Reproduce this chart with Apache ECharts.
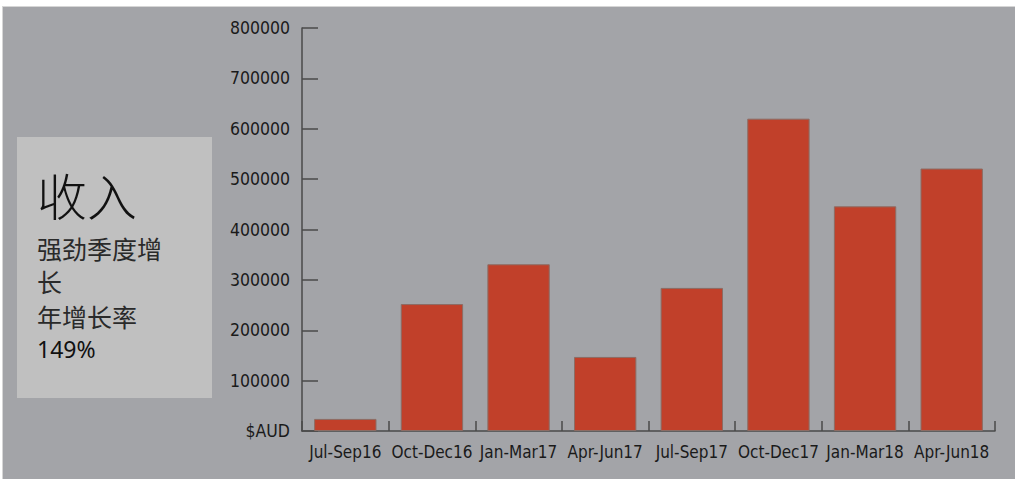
<!DOCTYPE html>
<html>
<head>
<meta charset="utf-8">
<script src="https://cdn.jsdelivr.net/npm/echarts@6/dist/echarts.min.js"></script>
<style>
  html, body { margin: 0; padding: 0; background: #ffffff; width: 1015px; height: 479px; overflow: hidden; }
  #bg { position: absolute; left: 2px; top: 6px; width: 1013px; height: 473px; background: #a3a4a8;
        border-top: 1px solid #d6d6d6; border-left: 1px solid #d6d6d6; box-sizing: border-box; }
  #main { position: absolute; left: 0; top: 0; width: 1015px; height: 479px; }
</style>
</head>
<body>
<div id="bg"></div>
<div id="main"></div>
<script>
const categories = ['Jul-Sep16', 'Oct-Dec16', 'Jan-Mar17', 'Apr-Jun17', 'Jul-Sep17', 'Oct-Dec17', 'Jan-Mar18', 'Apr-Jun18'];
const revenue = [24000, 252000, 331000, 147000, 284000, 620000, 446000, 521000];
const yTicks = { min: 0, max: 800000, interval: 100000, zeroLabel: '$AUD' };
const boxTitle = '收入';
const boxLines = ['强劲季度增', '长', '年增长率'];
const boxRate = '149%';

const narrow = '"Liberation Sans Narrow", "DejaVu Sans Condensed", "Roboto Condensed", sans-serif';
const cjk = '"Noto Sans CJK SC", "Noto Sans", sans-serif';

const chart = echarts.init(document.getElementById('main'), null, { renderer: 'svg' });

const textEls = [
  { type: 'text', left: 37, top: 169, style: { text: boxTitle, font: '300 50px ' + cjk, fill: '#111' } },
  { type: 'text', left: 37, top: 234, style: { text: boxLines[0], font: '25px ' + cjk, fill: '#2a2a2a', lineHeight: 28 } },
  { type: 'text', left: 37, top: 267, style: { text: boxLines[1], font: '25px ' + cjk, fill: '#2a2a2a', lineHeight: 28 } },
  { type: 'text', left: 37, top: 302, style: { text: boxLines[2], font: '25px ' + cjk, fill: '#2a2a2a', lineHeight: 28 } },
  { type: 'text', left: 37, top: 336, style: { text: boxRate, font: '23px "Noto Sans", "Open Sans", sans-serif', fill: '#111', lineHeight: 26 } }
];

chart.setOption({
  backgroundColor: 'transparent',
  animation: false,
  grid: { left: 302, right: 20, top: 28, bottom: 48, containLabel: false },
  xAxis: {
    type: 'category',
    data: categories,
    axisLine: { show: true, lineStyle: { color: '#4a4a4a', width: 1.5 } },
    axisTick: { show: true, inside: true, length: 10, alignWithLabel: false, lineStyle: { color: '#4a4a4a', width: 1.5 } },
    axisLabel: { color: '#1a1a1a', fontFamily: narrow, fontSize: 17, margin: 12, interval: 0 },
    splitLine: { show: false }
  },
  yAxis: {
    type: 'value',
    min: yTicks.min,
    max: yTicks.max,
    interval: yTicks.interval,
    axisLine: { show: true, lineStyle: { color: '#4a4a4a', width: 1.5 } },
    axisTick: { show: true, inside: true, length: 16, lineStyle: { color: '#4a4a4a', width: 1.5 } },
    axisLabel: {
      color: '#1a1a1a', fontFamily: narrow, fontSize: 17.5, margin: 12,
      formatter: v => (v === 0 ? yTicks.zeroLabel : String(v))
    },
    splitLine: { show: false }
  },
  series: [{
    type: 'bar',
    data: revenue,
    barCategoryGap: '28%',
    itemStyle: { color: '#c1402a', borderColor: '#8c6c64', borderWidth: 1 }
  }],
  graphic: [
    { type: 'rect', left: 17, top: 137, shape: { width: 195, height: 261 }, style: { fill: '#c0c0c0' }, z: 0 },
    ...textEls
  ]
});
</script>
</body>
</html>
